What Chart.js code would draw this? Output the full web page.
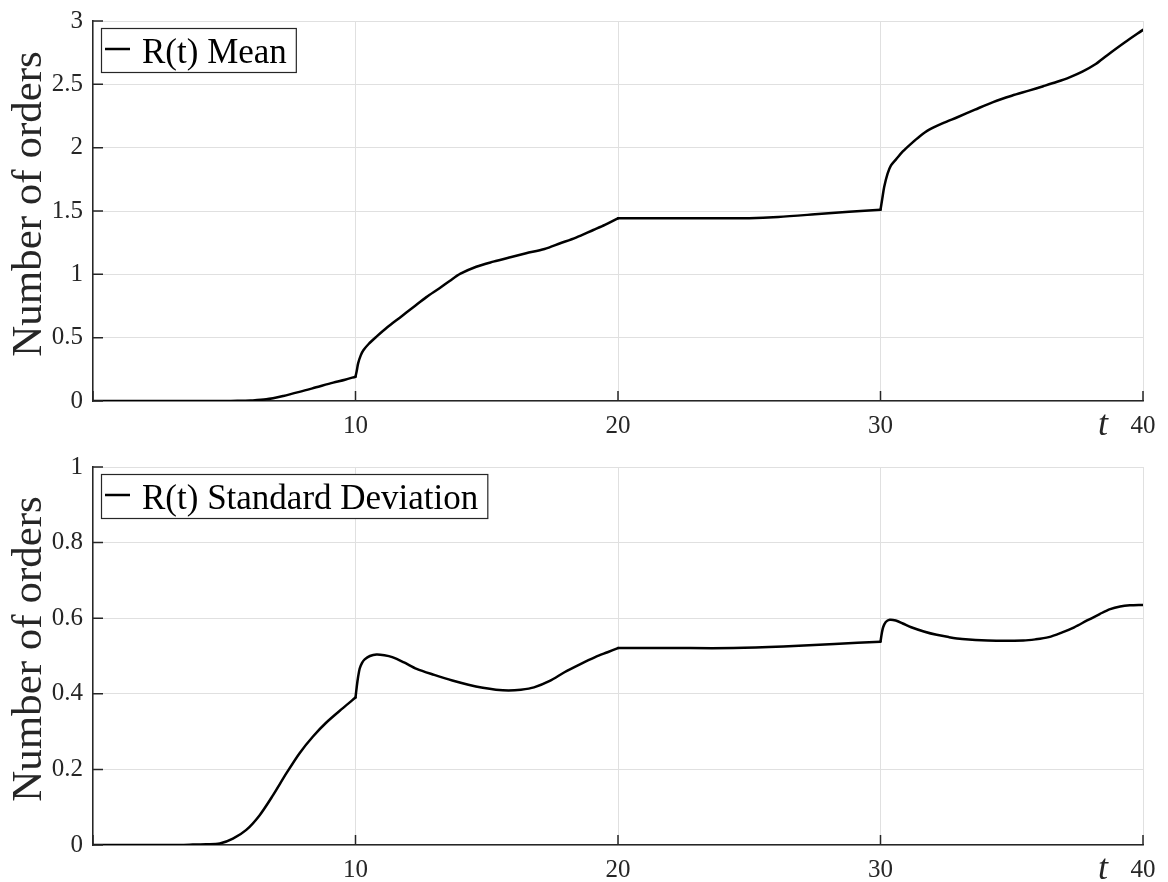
<!DOCTYPE html>
<html>
<head>
<meta charset="utf-8">
<title>R(t) mean and standard deviation</title>
<script src="https://cdn.jsdelivr.net/npm/chart.js@4.4.1/dist/chart.umd.min.js"></script>
<style>
  html, body { margin: 0; padding: 0; background: #ffffff; overflow: hidden; }
  #wrap { position: relative; width: 1168px; height: 882px; overflow: hidden; }
  .panel { position: absolute; left: 0; width: 1168px; }
</style>
</head>
<body>
<div id="wrap">
  <div class="panel" style="top:-5px;height:445px"><canvas id="meanChart"></canvas></div>
  <div class="panel" style="top:440px;height:442px"><canvas id="sdChart"></canvas></div>
</div>
<script>
// Time samples and values of the mean of R(t)
const meanTimes = [0, 2, 4, 5, 5.5, 6, 6.6, 7.25, 7.9, 8.5, 9.15, 9.6, 10, 10.05, 10.1, 10.2, 10.3, 10.5, 10.8,
  11.2, 11.7, 12.2, 12.7, 13.2, 13.6, 14, 14.6, 15.25, 15.9, 16.5, 17.2, 17.8, 18.4, 19.06, 19.5, 20,
  22, 24, 25, 26.1, 27.5, 28.8, 30, 30.07, 30.14, 30.27, 30.4, 30.6, 30.85, 31.16, 31.5, 31.84, 32.4,
  32.93, 33.6, 34.29, 35, 35.65, 36.2, 36.73, 37.2, 37.69, 38.2, 38.64, 39.3, 40];
const meanValues = [0, 0, 0, 0, 0.001, 0.004, 0.013, 0.04, 0.074, 0.108, 0.145, 0.168, 0.192, 0.24, 0.297, 0.36, 0.40, 0.45, 0.508,
  0.58, 0.66, 0.74, 0.82, 0.89, 0.95, 1.005, 1.06, 1.10, 1.135, 1.166, 1.20, 1.245, 1.29, 1.35, 1.39, 1.442,
  1.442, 1.442, 1.443, 1.453, 1.474, 1.495, 1.51, 1.60, 1.69, 1.795, 1.86, 1.91, 1.97, 2.03, 2.09, 2.14, 2.195,
  2.24, 2.30, 2.36, 2.41, 2.45, 2.485, 2.52, 2.555, 2.60, 2.66, 2.73, 2.83, 2.93];

// Time samples and values of the standard deviation of R(t)
const sdTimes = [0, 3, 3.8, 4.3, 4.83, 5.33, 5.84, 6.35, 6.86, 7.37, 7.87, 8.38, 8.89, 9.52, 10, 10.05, 10.1, 10.16,
  10.25, 10.35, 10.55, 10.8, 11.1, 11.4, 11.85, 12.33, 13, 13.69, 14.3, 14.85, 15.35, 15.83, 16.3, 16.8,
  17.4, 17.96, 18.55, 19.13, 19.6, 20, 22, 24.4, 26.3, 28.25, 30, 30.05, 30.1, 30.2, 30.35, 30.58, 30.85,
  31.17, 31.65, 32.14, 32.6, 33.11, 34.08, 35.44, 35.9, 36.41, 36.9, 37.38, 37.87, 38.35, 38.75, 39.13, 39.5, 40];
const sdValues = [0, 0, 0.001, 0.002, 0.004, 0.017, 0.04, 0.079, 0.132, 0.19, 0.243, 0.287, 0.324, 0.362, 0.39, 0.42, 0.445, 0.467,
  0.482, 0.491, 0.50, 0.504, 0.502, 0.497, 0.483, 0.466, 0.45, 0.435, 0.424, 0.416, 0.411, 0.409, 0.411, 0.417,
  0.434, 0.457, 0.478, 0.497, 0.51, 0.521, 0.521, 0.521, 0.525, 0.532, 0.538, 0.56, 0.576, 0.59, 0.596, 0.594, 0.586,
  0.576, 0.565, 0.556, 0.55, 0.545, 0.541, 0.541, 0.544, 0.55, 0.562, 0.576, 0.594, 0.611, 0.624, 0.631, 0.634, 0.635];

// Times where the curves have a corner (each piece is smoothed on its own)
const cornerTimes = [10, 20, 30];

// Axis tick labels
const xTickLabels = ['10', '20', '30', '40'];
const meanYTickLabels = ['0', '0.5', '1', '1.5', '2', '2.5', '3'];
const sdYTickLabels = ['0', '0.2', '0.4', '0.6', '0.8', '1'];
const yAxisTitle = 'Number of orders';

const SERIF = '"Liberation Serif", "Times New Roman", serif';
const AXIS_COLOR = '#262626';
const GRID_COLOR = '#e0e0e0';

// Inward tick marks, y title, boxed legend inside the plot and the italic t on the time axis
const axisDecor = {
  id: 'axisDecor',
  afterDraw(chart) {
    const { ctx, chartArea: a, scales: { x, y } } = chart;
    ctx.save();
    ctx.strokeStyle = AXIS_COLOR;
    ctx.lineWidth = 1.5;
    ctx.beginPath();
    x.ticks.forEach(t => {
      const px = x.getPixelForValue(t.value);
      ctx.moveTo(px, a.bottom);
      ctx.lineTo(px, a.bottom - 10);
    });
    y.ticks.forEach(t => {
      const py = y.getPixelForValue(t.value);
      ctx.moveTo(a.left, py);
      ctx.lineTo(a.left + 10, py);
    });
    ctx.stroke();

    // rotated y-axis title
    ctx.save();
    ctx.translate(41, (a.top + a.bottom) / 2 - 7);
    ctx.rotate(-Math.PI / 2);
    ctx.fillStyle = AXIS_COLOR;
    ctx.font = '43px ' + SERIF;
    ctx.textAlign = 'center';
    ctx.textBaseline = 'alphabetic';
    ctx.fillText(yAxisTitle, 0, 0);
    ctx.restore();

    // time axis symbol
    ctx.fillStyle = AXIS_COLOR;
    ctx.font = 'italic 36px ' + SERIF;
    ctx.textAlign = 'center';
    ctx.textBaseline = 'alphabetic';
    ctx.fillText('t', x.getPixelForValue(40) - 40, a.bottom + 34);

    // legend box
    const label = chart.data.datasets[0].label;
    ctx.font = '35px ' + SERIF;
    const tw = ctx.measureText(label).width;
    const bx = a.left + 8, by = a.top + 7, bh = 44;
    const bw = 41 + tw + 9;
    ctx.fillStyle = '#ffffff';
    ctx.fillRect(bx, by, bw, bh);
    ctx.lineWidth = 1.2;
    ctx.strokeStyle = AXIS_COLOR;
    ctx.strokeRect(bx + 0.5, by + 0.5, bw, bh);
    ctx.strokeStyle = '#000000';
    ctx.lineWidth = 2.5;
    ctx.beginPath();
    ctx.moveTo(bx + 4, by + 21);
    ctx.lineTo(bx + 29, by + 21);
    ctx.stroke();
    ctx.fillStyle = '#000000';
    ctx.textAlign = 'left';
    ctx.fillText(label, bx + 41, by + 35);
    ctx.restore();
  }
};

// Split a series into smooth pieces that share their corner points
function pieces(times, values) {
  const out = [];
  let start = 0;
  cornerTimes.forEach(c => {
    const idx = times.indexOf(c);
    if (idx > start) {
      out.push(times.slice(start, idx + 1).map((t, i) => ({ x: t, y: values[start + i] })));
      start = idx;
    }
  });
  out.push(times.slice(start).map((t, i) => ({ x: t, y: values[start + i] })));
  return out;
}

function makeChart(id, times, values, label, yMax, yStep, yLabels, padTop, xHeight) {
  const datasets = pieces(times, values).map(pts => ({
    label: label,
    data: pts,
    borderColor: '#000000',
    borderWidth: 2.5,
    pointRadius: 0,
    tension: 0.3,
    borderCapStyle: 'round',
    fill: false
  }));
  return new Chart(document.getElementById(id), {
    type: 'line',
    data: { datasets },
    options: {
      responsive: true,
      maintainAspectRatio: false,
      animation: false,
      layout: { padding: { left: 0, right: 25, top: padTop, bottom: 0 } },
      plugins: { legend: { display: false }, tooltip: { enabled: false } },
      scales: {
        x: {
          type: 'linear',
          min: 0,
          max: 40,
          afterFit: s => { s.height = xHeight; },
          grid: { color: GRID_COLOR, lineWidth: 1, drawTicks: false },
          border: { display: true, color: AXIS_COLOR, width: 1.5 },
          ticks: {
            stepSize: 10,
            padding: 10,
            color: AXIS_COLOR,
            font: { family: SERIF, size: 25 },
            maxRotation: 0,
            callback: v => {
              const s = String(v);
              return xTickLabels.includes(s) ? s : '';
            }
          }
        },
        y: {
          type: 'linear',
          min: 0,
          max: yMax,
          afterFit: s => { s.width = 93; },
          grid: { color: GRID_COLOR, lineWidth: 1, drawTicks: false },
          border: { display: true, color: AXIS_COLOR, width: 1.5 },
          ticks: {
            stepSize: yStep,
            padding: 10,
            color: AXIS_COLOR,
            font: { family: SERIF, size: 25 },
            callback: (v) => {
              const idx = Math.round(v / yStep);
              return yLabels[idx] !== undefined ? yLabels[idx] : '';
            }
          }
        }
      }
    },
    plugins: [axisDecor]
  });
}

makeChart('meanChart', meanTimes, meanValues, 'R(t) Mean', 3, 0.5, meanYTickLabels, 26, 39);
makeChart('sdChart', sdTimes, sdValues, 'R(t) Standard Deviation', 1, 0.2, sdYTickLabels, 27, 37);
</script>
</body>
</html>
